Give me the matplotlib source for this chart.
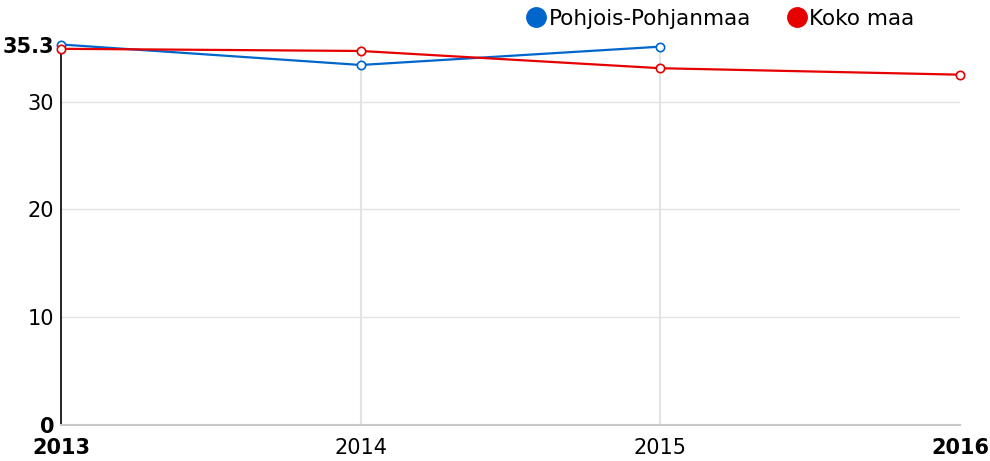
import matplotlib.pyplot as plt
from matplotlib.lines import Line2D

plt.rcParams['font.family'] = 'DejaVu Sans'

years = [2013, 2014, 2015, 2016]
pohjois_years = [2013, 2014, 2015]
pohjois = [35.3, 33.4, 35.1]
koko_maa = [34.9, 34.7, 33.1, 32.5]

blue = '#0066cc'
red = '#e60000'

fig = plt.figure(figsize=(9.9, 4.61), dpi=100)
ax = fig.add_axes([61 / 990, 36 / 461, 899 / 990, 380.5 / 461])

ax.plot(pohjois_years, pohjois, color=blue, lw=1.6, marker='o', ms=6,
        mfc='white', mec=blue, mew=1.2, zorder=3, clip_on=False)
ax.plot(years, koko_maa, color=red, lw=1.6, marker='o', ms=6,
        mfc='white', mec=red, mew=1.2, zorder=3, clip_on=False)

ax.set_xlim(2013, 2016)
ax.set_ylim(0, 35.3)
ax.set_xticks(years)
ax.set_xticklabels([str(y) for y in years])
ax.set_yticks([0, 10, 20, 30, 35.3])
ax.set_yticklabels(['0', '10', '20', '30', '35.3'])
for i in (0, 3):
    ax.get_xticklabels()[i].set_fontweight('bold')
for i in (0, 4):
    ax.get_yticklabels()[i].set_fontweight('bold')

ax.tick_params(axis='both', length=0, labelsize=15)
ax.tick_params(axis='x', pad=9)
ax.tick_params(axis='y', pad=5)

# grid only at the inner ticks
for y in (10, 20, 30):
    ax.axhline(y, color='#e3e3e3', lw=1, zorder=0)
for x in (2014, 2015):
    ax.axvline(x, color='#e3e3e3', lw=1.5, zorder=0)

for s in ('top', 'right'):
    ax.spines[s].set_visible(False)
ax.spines['left'].set_color('black')
ax.spines['left'].set_linewidth(1.2)
ax.spines['bottom'].set_color('#c8c8c8')
ax.spines['bottom'].set_linewidth(1.5)

handles = [Line2D([], [], ls='none', marker='o', ms=14, color=blue),
           Line2D([], [], ls='none', marker='o', ms=14, color=red)]
fig.legend(handles, ['Pohjois-Pohjanmaa', 'Koko maa'], loc='center',
           bbox_to_anchor=(720 / 990, 1 - 19 / 461), ncol=2, frameon=False,
           fontsize=15.5, handletextpad=0.1, columnspacing=1.6, handlelength=1.0)

fig.savefig('out.png', dpi=100)
